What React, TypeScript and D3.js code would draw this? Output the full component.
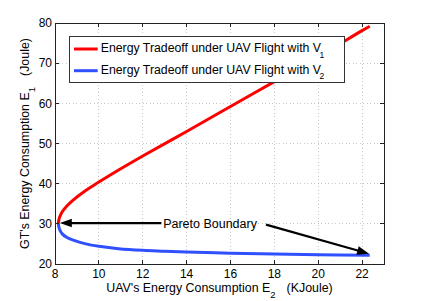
// @ts-nocheck
import React, { useRef, useEffect } from 'react';
import * as d3 from 'd3';

// curve: E2 in KJoule, E1 in Joule
const redE2 = [8.15, 8.2, 8.33, 8.55, 8.8, 9.4, 10, 10.9, 12, 14, 16, 18, 20, 22, 22.35];
const redE1 = [30.1, 31.5, 33, 34.5, 35.8, 38.3, 40.4, 43.4, 46.9, 53.0, 59.2, 65.4, 71.6, 78.1, 79.2];
const blueE2 = [8.15, 8.2, 8.33, 8.55, 8.8, 9.4, 10, 10.9, 12, 13, 14, 16, 18, 20, 22.35];
const blueE1 = [30.1, 28.7, 27.5, 26.6, 26.0, 25.0, 24.4, 23.8, 23.4, 23.2, 23.0, 22.7, 22.5, 22.3, 22.2];

const xTicks = [8, 10, 12, 14, 16, 18, 20, 22];
const yTicks = [20, 30, 40, 50, 60, 70, 80];

const legendLabels = ['Energy Tradeoff under UAV Flight with V', 'Energy Tradeoff under UAV Flight with V'];
const legendSubs = ['1', '2'];
const seriesColors = ['#ff0000', '#3050ff'];

// annotation arrows [fromE2, fromE1, toE2, toE1]
const arrows = [
  [12.85, 30.2, 8.22, 30.2],
  [17.62, 29.8, 22.32, 22.55],
];
const annotationText = 'Pareto Boundary';

const W = 424;
const H = 301;
const FONT = '"Liberation Sans", Arial, Helvetica, sans-serif';

const App = () => {
  const svgRef = useRef(null);

  useEffect(() => {
    const svg = d3.select(svgRef.current);
    svg.selectAll('*').remove();

    const x = d3.scaleLinear().domain([8, 23]).range([55, 384]);
    const y = d3.scaleLinear().domain([20, 80]).range([264, 23]);
    const [x0, x1] = x.range();
    const [y0, y1] = y.range();

    // grid
    const grid = svg.append('g')
      .attr('stroke', '#b8b8b8')
      .attr('stroke-width', 0.8)
      .attr('stroke-dasharray', '1,2.5')
      .attr('shape-rendering', 'crispEdges');
    grid.selectAll('.gx').data(xTicks.filter(t => t > 8)).enter().append('line')
      .attr('x1', d => x(d)).attr('x2', d => x(d)).attr('y1', y0).attr('y2', y1);
    grid.selectAll('.gy').data(yTicks.filter(t => t > 20 && t < 80)).enter().append('line')
      .attr('x1', x0).attr('x2', x1).attr('y1', d => y(d)).attr('y2', d => y(d));

    // curves
    const line = d3.line().x(d => x(d[0])).y(d => y(d[1])).curve(d3.curveCatmullRom.alpha(0.5));
    const redPts = redE2.map((v, i) => [v, redE1[i]]);
    const bluePts = blueE2.map((v, i) => [v, blueE1[i]]);
    svg.append('path').datum(bluePts).attr('d', line)
      .attr('fill', 'none').attr('stroke', seriesColors[1]).attr('stroke-width', 3);
    svg.append('path').datum(redPts).attr('d', line)
      .attr('fill', 'none').attr('stroke', seriesColors[0]).attr('stroke-width', 3);

    // axes box with inward ticks on all sides
    const ax = svg.append('g').attr('stroke', '#222').attr('stroke-width', 1).attr('shape-rendering', 'crispEdges');
    ax.append('rect').attr('x', x0).attr('y', y1).attr('width', x1 - x0).attr('height', y0 - y1).attr('fill', 'none');
    xTicks.forEach(t => {
      ax.append('line').attr('x1', x(t)).attr('x2', x(t)).attr('y1', y0).attr('y2', y0 - 4);
      ax.append('line').attr('x1', x(t)).attr('x2', x(t)).attr('y1', y1).attr('y2', y1 + 4);
    });
    yTicks.forEach(t => {
      ax.append('line').attr('x1', x0).attr('x2', x0 + 4).attr('y1', y(t)).attr('y2', y(t));
      ax.append('line').attr('x1', x1).attr('x2', x1 - 4).attr('y1', y(t)).attr('y2', y(t));
    });

    // tick labels
    svg.append('g').selectAll('text').data(xTicks).enter().append('text')
      .attr('x', d => x(d)).attr('y', y0 + 13.8)
      .attr('text-anchor', 'middle')
      .attr('font-family', FONT).attr('font-size', 12).attr('fill', '#000')
      .text(d => d);
    svg.append('g').selectAll('text').data(yTicks).enter().append('text')
      .attr('x', x0 - 3).attr('y', d => y(d) + 4.3)
      .attr('text-anchor', 'end')
      .attr('font-family', FONT).attr('font-size', 12).attr('fill', '#000')
      .text(d => d);

    // axis labels
    const xl = svg.append('text')
      .attr('x', (x0 + x1) / 2).attr('y', 292)
      .attr('text-anchor', 'middle')
      .attr('font-family', FONT).attr('font-size', 12.4).attr('fill', '#000');
    xl.append('tspan').text("UAV's Energy Consumption E");
    xl.append('tspan').attr('font-size', 9.5).attr('dy', 5.5).text('2');
    xl.append('tspan').attr('dx', 11).attr('dy', -5.5).text('(KJoule)');

    const yl = svg.append('text')
      .attr('transform', `translate(29,${(y0 + y1) / 2}) rotate(-90)`)
      .attr('text-anchor', 'middle')
      .attr('font-family', FONT).attr('font-size', 12.4).attr('fill', '#000');
    yl.append('tspan').text("GT's Energy Consumption E");
    yl.append('tspan').attr('font-size', 9.5).attr('dy', 6).text('1');
    yl.append('tspan').attr('dx', 11).attr('dy', -6).text('(Joule)');

    // annotation arrows
    arrows.forEach(([fx, fy, tx, ty]) => {
      const sx = x(fx), sy = y(fy), ex = x(tx), ey = y(ty);
      const len = Math.hypot(ex - sx, ey - sy);
      const ux = (ex - sx) / len, uy = (ey - sy) / len;
      const hl = 12, hw = 4.3;
      const bx = ex - ux * hl, by = ey - uy * hl;
      svg.append('line')
        .attr('x1', sx).attr('y1', sy).attr('x2', bx + ux * 2).attr('y2', by + uy * 2)
        .attr('stroke', '#000').attr('stroke-width', 2.2);
      svg.append('path')
        .attr('d', `M${ex},${ey}L${bx - uy * hw},${by + ux * hw}L${bx + uy * hw},${by - ux * hw}Z`)
        .attr('fill', '#000');
    });
    svg.append('text')
      .attr('x', x(12.93)).attr('y', y(30.2) + 4.6)
      .attr('font-family', FONT).attr('font-size', 12.5).attr('fill', '#000')
      .text(annotationText);

    // legend
    const lg = svg.append('g');
    lg.append('rect')
      .attr('x', 69.5).attr('y', 36.5).attr('width', 275).attr('height', 45.5)
      .attr('fill', '#fff').attr('stroke', '#333').attr('stroke-width', 1)
      .attr('shape-rendering', 'crispEdges');
    legendLabels.forEach((lab, i) => {
      const cy = 49 + i * 21.7;
      lg.append('line')
        .attr('x1', 74).attr('x2', 97.7).attr('y1', cy).attr('y2', cy)
        .attr('stroke', seriesColors[i]).attr('stroke-width', 3);
      const t = lg.append('text')
        .attr('x', 100.7).attr('y', cy + 3.2)
        .attr('font-family', FONT).attr('font-size', 12.3).attr('fill', '#000');
      t.append('tspan').text(lab);
      t.append('tspan').attr('font-size', 8.5).attr('dx', -1.5).attr('dy', 5.5).text(legendSubs[i]);
    });
  }, []);

  return (
    <svg
      ref={svgRef}
      width={W}
      height={H}
      style={{ position: 'absolute', left: 0, top: 0, background: '#fff', display: 'block' }}
    />
  );
};

export default App;
